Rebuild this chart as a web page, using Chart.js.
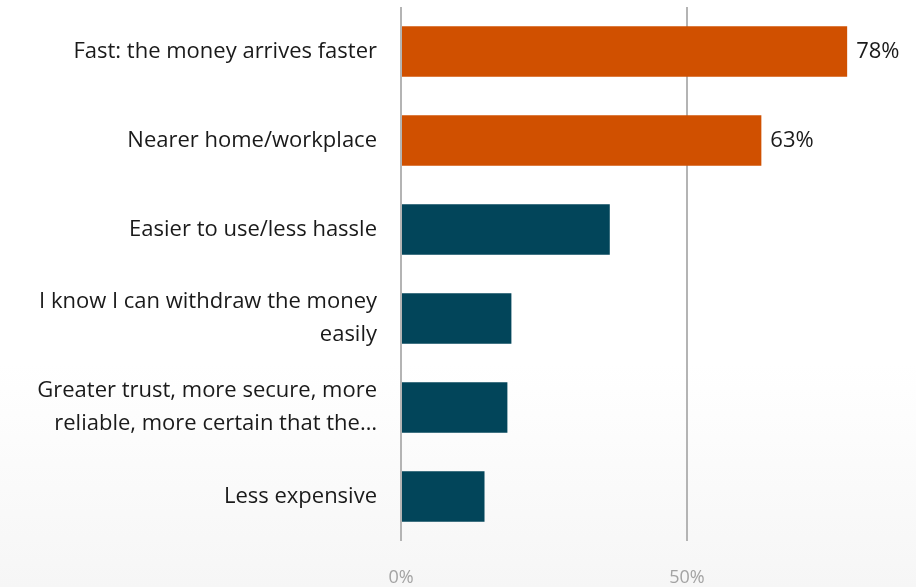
<!DOCTYPE html>
<html>
<head>
<meta charset="utf-8">
<script src="https://cdn.jsdelivr.net/npm/chart.js@4"></script>
<style>
  html, body { margin: 0; padding: 0; }
  body {
    width: 916px; height: 587px; overflow: hidden;
    background: linear-gradient(to bottom, #ffffff 62%, #f6f6f6 100%);
  }
  #wrap { width: 1000px; height: 587px; position: relative; }
</style>
</head>
<body>
<div id="wrap"><canvas id="grafico" width="1000" height="587"></canvas></div>
<script>
const motivos = [
    'Fast: the money arrives faster',
    'Nearer home/workplace',
    'Easier to use/less hassle',
    ['I know I can withdraw the money', 'easily'],
    ['Greater trust, more secure, more', 'reliable, more certain that the…'],
    'Less expensive'
];
const porcentajes = [78, 63, 36.5, 19.3, 18.6, 14.6];
const etiquetas = ['78%', '63%', '', '', '', ''];
const colores = ['#D05000', '#D05000', '#02455A', '#02455A', '#02455A', '#02455A'];
const ticksX = [0, 50, 100];

// escribe el porcentaje al final de las barras que lo llevan
const etiquetasBarras = {
    id: 'etiquetasBarras',
    afterDatasetsDraw(chart) {
        const ctx = chart.ctx;
        const meta = chart.getDatasetMeta(0);
        ctx.save();
        ctx.font = '22px "Open Sans"';
        ctx.fillStyle = '#1a1a1a';
        ctx.textBaseline = 'middle';
        meta.data.forEach((bar, i) => {
            if (!etiquetas[i]) return;
            ctx.fillText(etiquetas[i], bar.x + 9, bar.y);
        });
        ctx.restore();
    }
};

const ctx = document.getElementById('grafico').getContext('2d');
const grafico = new Chart(ctx, {
    type: 'bar',
    data: {
        labels: motivos,
        datasets: [{
            data: porcentajes,
            backgroundColor: colores,
            borderWidth: 0,
            categoryPercentage: 0.57,
            barPercentage: 1
        }]
    },
    options: {
        indexAxis: 'y',
        responsive: false,
        animation: false,
        events: [],
        layout: { padding: { top: 7, left: 0, right: 27, bottom: 0 } },
        plugins: {
            legend: { display: false },
            tooltip: { enabled: false }
        },
        scales: {
            x: {
                min: 0,
                max: 100,
                afterBuildTicks: scale => { scale.ticks = ticksX.map(v => ({ value: v })); },
                afterFit: scale => {
                    scale.height = 46;
                    scale.paddingLeft = 0;
                    scale.paddingRight = 0;
                },
                border: { display: false },
                grid: { color: '#b4b4b4', lineWidth: 2, drawTicks: false },
                ticks: {
                    color: '#a3a3a3',
                    padding: 26,
                    font: { family: 'Open Sans', size: 18 },
                    callback: v => v + '%'
                }
            },
            y: {
                afterFit: scale => {
                    scale.width = 401;
                    scale.paddingTop = 0;
                    scale.paddingBottom = 0;
                },
                border: { display: false },
                grid: { display: false, drawTicks: false },
                ticks: {
                    color: '#1a1a1a',
                    padding: 24,
                    font: { family: 'Open Sans', size: 22, lineHeight: 1.5 }
                }
            }
        }
    },
    plugins: [etiquetasBarras]
});
</script>
</body>
</html>
